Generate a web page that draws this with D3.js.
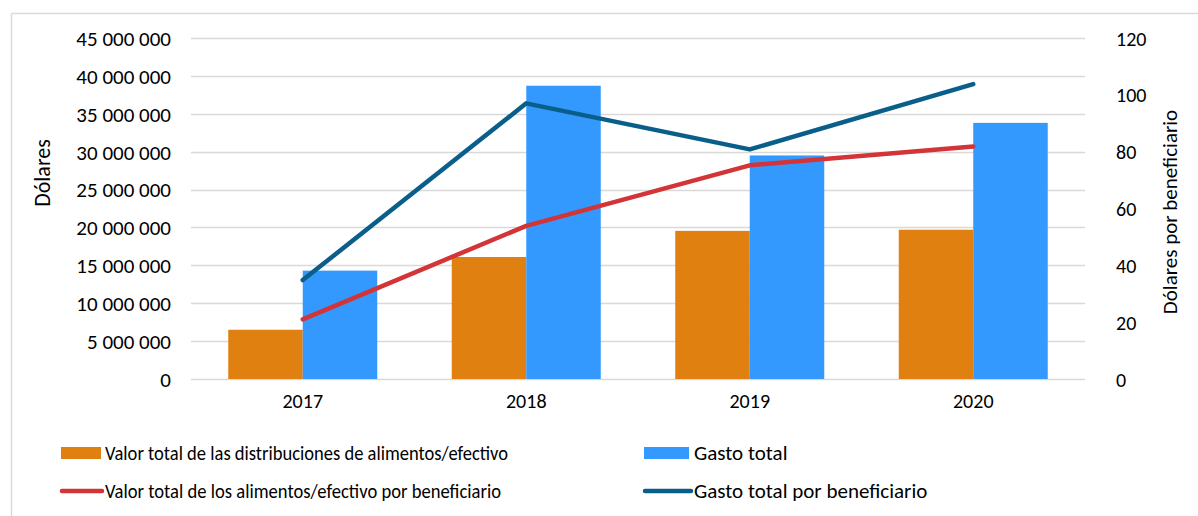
<!DOCTYPE html>
<html>
<head>
<meta charset="utf-8">
<title>Gasto y valor por beneficiario</title>
<script src="https://d3js.org/d3.v7.min.js"></script>
<style>
  body { margin: 0; background: #fff; }
  svg text { font-family: Carlito, Calibri, "Liberation Sans", Arial, sans-serif; fill: #000; }
</style>
</head>
<body>
<div id="chart"></div>
<script>
// data
const years = ["2017", "2018", "2019", "2020"];
const valorDistribuciones = [6500000, 16100000, 19550000, 19700000];
const gastoTotal = [14300000, 38700000, 29500000, 33800000];
const valorPorBenef = [21.0, 53.9, 75.2, 81.8];
const gastoPorBenef = [34.8, 97.0, 80.8, 103.8];
const leftTicks = [0, 5000000, 10000000, 15000000, 20000000, 25000000, 30000000, 35000000, 40000000, 45000000];
const rightTicks = [0, 20, 40, 60, 80, 100, 120];
const legendLabels = [
  "Valor total de las distribuciones de alimentos/efectivo",
  "Gasto total",
  "Valor total de los alimentos/efectivo por beneficiario",
  "Gasto total por beneficiario"
];

const w = 1198, h = 516;
const colOrange = "#DF8010", colBlue = "#3399FF", colRed = "#D33437", colNavy = "#0A5E8A";

const svg = d3.select("#chart").append("svg")
  .attr("width", w)
  .attr("height", h);

// outer frame (top and left only are visible)
svg.append("line").attr("x1", 11.5).attr("x2", w).attr("y1", 13.5).attr("y2", 13.5)
  .attr("stroke", "#d9d9d9").attr("stroke-width", 1.5);
svg.append("line").attr("x1", 11.5).attr("x2", 11.5).attr("y1", 13.5).attr("y2", h)
  .attr("stroke", "#d9d9d9").attr("stroke-width", 1.5);

const x0 = d3.scaleBand().domain(years).range([191, 1085]).paddingInner(1 / 3).paddingOuter(1 / 6);
const x1 = d3.scaleBand().domain([0, 1]).range([0, x0.bandwidth()]);
const yL = d3.scaleLinear().domain([0, 45000000]).range([379, 38]);
const yR = d3.scaleLinear().domain([0, 120]).range([379, 38]);

const fmt = v => d3.format(",")(v).replace(/,/g, " ");

// gridlines
svg.append("g")
  .selectAll("line")
  .data(leftTicks)
  .join("line")
  .attr("x1", 191).attr("x2", 1085)
  .attr("y1", d => Math.round(yL(d)) + 0.5)
  .attr("y2", d => Math.round(yL(d)) + 0.5)
  .attr("stroke", "#d9d9d9").attr("stroke-width", 1.5);

// left axis
const leftAxis = svg.append("g")
  .attr("transform", "translate(191,0)")
  .call(d3.axisLeft(yL).tickValues(leftTicks).tickFormat(fmt).tickSize(0).tickPadding(20));
leftAxis.select(".domain").remove();
leftAxis.selectAll("text").style("font-size", "21px").attr("dy", "0.35em");

// right axis
const rightAxis = svg.append("g")
  .attr("transform", "translate(1085,0)")
  .call(d3.axisRight(yR).tickValues(rightTicks).tickSize(0).tickPadding(31));
rightAxis.select(".domain").remove();
rightAxis.selectAll("text").style("font-size", "20px").attr("dy", "0.35em");

// x axis
const xAxis = svg.append("g")
  .attr("transform", "translate(0,379)")
  .call(d3.axisBottom(x0).tickSize(0).tickPadding(15));
xAxis.select(".domain").remove();
xAxis.selectAll("text").style("font-size", "20px");

// axis titles
svg.append("text")
  .attr("transform", "translate(50,173) rotate(-90)")
  .attr("text-anchor", "middle")
  .style("font-size", "22px")
  .text("Dólares");
svg.append("text")
  .attr("transform", "translate(1177,212) rotate(-90)")
  .attr("text-anchor", "middle")
  .style("font-size", "21px")
  .text("Dólares por beneficiario");

// bars
const barData = years.map((yr, i) => [
  { year: yr, k: 0, v: valorDistribuciones[i], c: colOrange },
  { year: yr, k: 1, v: gastoTotal[i], c: colBlue }
]).flat();

svg.append("g")
  .selectAll("rect")
  .data(barData)
  .join("rect")
  .attr("x", d => x0(d.year) + x1(d.k))
  .attr("y", d => yL(d.v))
  .attr("width", x1.bandwidth())
  .attr("height", d => yL(0) - yL(d.v))
  .attr("fill", d => d.c);

// lines
const line = d3.line()
  .x((d, i) => x0(years[i]) + x0.bandwidth() / 2)
  .y(d => yR(d));

svg.append("path")
  .datum(valorPorBenef)
  .attr("d", line)
  .attr("fill", "none")
  .attr("stroke", colRed)
  .attr("stroke-width", 4.5)
  .attr("stroke-linecap", "round")
  .attr("stroke-linejoin", "round");

svg.append("path")
  .datum(gastoPorBenef)
  .attr("d", line)
  .attr("fill", "none")
  .attr("stroke", colNavy)
  .attr("stroke-width", 4.5)
  .attr("stroke-linecap", "round")
  .attr("stroke-linejoin", "round");

// legend
const legendItems = [
  { label: legendLabels[0], type: "rect", c: colOrange, x: 61, y: 453, tl: 403 },
  { label: legendLabels[1], type: "rect", c: colBlue, x: 644, y: 453, tl: null },
  { label: legendLabels[2], type: "line", c: colRed, x: 61, y: 491, tl: 396 },
  { label: legendLabels[3], type: "line", c: colNavy, x: 644, y: 491, tl: null }
];

const lg = svg.append("g")
  .selectAll("g")
  .data(legendItems)
  .join("g")
  .attr("transform", d => `translate(${d.x},${d.y})`);

lg.filter(d => d.type === "rect")
  .append("rect")
  .attr("x", 0).attr("y", -6)
  .attr("width", d => d.x > 300 ? 45 : 40).attr("height", 12)
  .attr("fill", d => d.c);

lg.filter(d => d.type === "line")
  .append("line")
  .attr("x1", 1).attr("x2", d => d.x > 300 ? 47 : 41)
  .attr("y1", 0).attr("y2", 0)
  .attr("stroke", d => d.c)
  .attr("stroke-width", 4.5)
  .attr("stroke-linecap", "round");

lg.append("text")
  .attr("x", d => d.x > 300 ? 50 : 44)
  .attr("y", 0)
  .attr("dy", "0.35em")
  .style("font-size", d => d.tl ? "20px" : "21px")
  .each(function (d) {
    if (d.tl) d3.select(this).attr("textLength", d.tl).attr("lengthAdjust", "spacingAndGlyphs");
  })
  .text(d => d.label);
</script>
</body>
</html>
